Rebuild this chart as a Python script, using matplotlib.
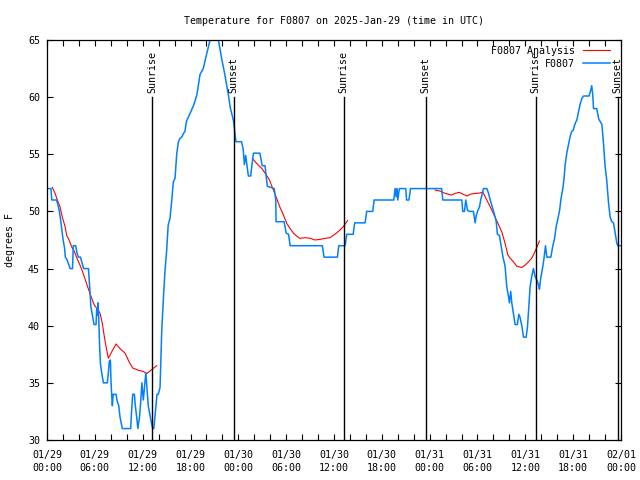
import numpy as np
import matplotlib
matplotlib.use("Agg")
import matplotlib.pyplot as plt
from matplotlib.ticker import MultipleLocator
from datetime import datetime, timedelta

# hours since 2025-01-29 00:00 UTC
obs_hours = [0.17, 0.5, 0.6, 1.2, 1.4, 1.55, 1.7, 1.84, 2.0, 2.2, 2.3, 2.5, 2.9, 3.2, 3.3, 3.6,
             3.75, 3.93, 4.2, 4.35, 4.6, 5.2, 5.3, 5.4, 5.5, 5.7, 5.9, 6.15, 6.24, 6.32, 6.4,
             6.5, 6.6, 6.7, 6.86, 7.07, 7.57, 7.7, 7.82, 7.95, 8.02, 8.11, 8.2, 8.3, 8.66,
             8.8, 9.0, 9.16, 9.45, 10.5, 10.6, 10.75, 10.96, 11.08, 11.25, 11.4, 11.6, 11.75,
             11.9, 12.08, 12.4, 12.7, 13.1, 13.26, 13.4, 13.8, 13.96, 14.18, 14.39, 14.6,
             14.8, 15.0, 15.2, 15.43, 15.64, 15.85, 16.06, 16.27, 16.48, 16.69, 16.9, 17.1,
             17.3, 17.5, 17.9, 18.4, 18.8, 19.2, 19.6, 20.0, 20.45, 20.9, 21.1, 21.5, 21.9,
             22.3, 22.75, 23.0, 23.4, 23.7, 24.4, 24.6, 24.76, 24.92, 25.05, 25.26, 25.55,
             25.68, 25.9, 26.7, 27.0, 27.35, 27.5, 27.64, 28.5, 28.7, 28.73, 29.74, 30.0,
             30.3, 30.5, 34.54, 34.75, 36.43, 36.6, 37.39, 37.6, 38.4, 38.6, 39.9, 40.1,
             40.86, 41.03, 43.5, 43.66, 43.79, 43.87, 44.0, 44.2, 45.0, 45.1, 45.4, 45.6,
             49.5, 49.65, 52.03, 52.15, 52.36, 52.53, 52.74, 52.99, 53.49, 53.7, 53.83, 54.0,
             54.25, 54.4, 54.75, 55.17, 55.38, 55.6, 55.9, 56.1, 56.33, 56.5, 56.75, 56.96,
             57.17, 57.46, 57.67, 57.88, 58.0, 58.17, 58.3, 58.5, 58.72, 59.0, 59.18, 59.35,
             59.56, 59.77, 60.1, 60.27, 60.48, 60.6, 60.8, 61.02, 61.23, 61.44, 61.65, 61.77,
             61.94, 62.2, 62.36, 62.53, 62.7, 63.2, 63.45, 63.66, 63.87, 64.04, 64.3, 64.45,
             64.7, 64.87, 65.0, 65.2, 65.4, 65.6, 65.8, 66.0, 66.25, 66.46, 66.67, 66.88,
             67.1, 67.3, 68.0, 68.2, 68.33, 68.46, 68.55, 68.96, 69.2, 69.6, 69.8, 70.0,
             70.2, 70.43, 70.64, 70.85, 71.06, 71.27, 71.48, 71.6, 71.9]
obs_temps = [52, 52, 51, 51, 50.5, 50, 49.3, 48.5, 47.6, 46.8, 46, 45.8, 45, 45, 47, 47,
             46.4, 46, 46, 45.6, 45, 45, 44, 42.9, 41.7, 40.9, 40.1, 40.1, 41.5, 40.9, 42,
             40.5, 38.2, 36.7, 35.9, 35, 35, 35.9, 36.9, 37, 35.3, 34, 33, 34, 34,
             33.4, 33, 32, 31, 31, 32.4, 34, 34, 33, 32, 31, 32, 33.3,
             35, 33.5, 35.9, 33, 31.5, 31, 31, 34, 34, 34.6, 39.5, 42.4,
             44.8, 46.5, 48.8, 49.4, 50.9, 52.6, 52.9, 55, 56.1, 56.4, 56.5, 56.8,
             57, 57.9, 58.5, 59.3, 60.2, 62, 62.5, 63.7, 65, 66, 66, 65, 63.4,
             62, 60.2, 59.05, 57.9, 56.1, 56.1, 55.5, 54.1, 54.9, 54.2, 53.1, 53.1,
             53.9, 55.1, 55.1, 54, 54, 53, 52.2, 52, 51, 49.1, 49.1, 48.1,
             48, 47, 47, 46, 46, 47, 47, 48, 48, 49, 49, 50,
             50, 51, 51, 52, 51.3, 52, 51, 52, 52, 51, 51, 52,
             52, 51, 51, 50, 50, 51, 50.1, 50, 50, 49, 49.6, 50,
             50.4, 51, 52, 52, 51.6, 51, 50.3, 49.8, 49.2, 48, 47.9, 47,
             46.1, 45.2, 43.4, 42.6, 42, 43, 42, 41.1, 40.1, 40.1, 41, 40.7,
             40, 39, 39, 39.9, 42.2, 43.4, 44.3, 45, 44.3, 44, 43.6, 43.2,
             44.2, 45.2, 46, 47, 46, 46, 47, 47.6, 48.7, 49.2, 50.1, 51,
             52, 53, 54.1, 55.1, 55.8, 56.5, 57, 57.1, 57.7, 58, 58.7, 59.4,
             59.9, 60.1, 60.1, 60.6, 61, 60.2, 59, 59, 58.1, 57.6, 56, 54,
             52.8, 50.8, 49.5, 49.1, 49, 48.1, 47.2, 47, 47]

# analysis curve, NaN between the three runs
ana_hours = [0.67, 1.0, 1.3, 1.63, 1.92, 2.26, 2.47, 2.76, 3.1, 3.43, 3.76, 4.14, 4.48, 4.77,
             5.1, 5.4, 5.69, 5.94, 6.36, 6.65, 6.94, 7.2, 7.4, 7.7, 8.1, 8.66, 9.16, 9.79,
             10.29, 10.75, 11.46, 12.08, 12.5, 13.2, 13.76, np.nan,
             25.76, 26.3, 26.94, 27.5, 27.9, 28.32, 28.8, 29.2, 29.65, 30.07, 30.5, 30.9,
             31.3, 31.7, 32.4, 33.0, 33.6, 34.3, 34.9, 35.5, 35.9, 36.3, 36.8, 37.2, 37.5,
             37.7, np.nan,
             48.68, 49.3, 49.94, 50.77, 51.2, 51.73, 52.2, 52.7, 53.07, 53.7, 54.25, 54.67,
             54.95, 55.38, 55.8, 56.2, 56.6, 57.05, 57.34, 57.6, 57.8, 58.1, 58.5, 58.93,
             59.56, 59.97, 60.4, 60.8, 61.23, 61.52, 61.77]
ana_temps = [52.1, 51.6, 51.0, 50.4, 49.5, 48.7, 47.9, 47.5, 46.9, 46.5, 45.9, 45.3, 44.7, 44.1,
             43.4, 42.8, 42.25, 41.8, 41.4, 41.1, 40.2, 39.0, 38.2, 37.15, 37.7, 38.4, 38.0, 37.6,
             36.85, 36.3, 36.1, 36.0, 35.8, 36.2, 36.5, np.nan,
             54.64, 54.2, 53.77, 53.2, 52.75, 52.0, 51.15, 50.4, 49.7, 48.96, 48.5, 48.1,
             47.85, 47.65, 47.7, 47.65, 47.5, 47.56, 47.65, 47.7, 47.9, 48.1, 48.4, 48.7, 49.0,
             49.2, np.nan,
             51.87, 51.78, 51.58, 51.43, 51.58, 51.67, 51.5, 51.35, 51.5, 51.58, 51.6, 51.7,
             51.3, 50.7, 50.12, 49.5, 48.9, 48.2, 47.5, 46.8, 46.2, 45.9, 45.6, 45.2,
             45.1, 45.3, 45.6, 45.9, 46.5, 47.0, 47.4]

sunrise_hours = [13.2, 37.2, 61.3]
sunset_hours = [23.4, 47.5, 71.6]

START = datetime(2025, 1, 29)
FONT = "DejaVu Sans Mono"
FS = 7.2

plt.rcParams["font.family"] = FONT
plt.rcParams["font.size"] = FS

fig = plt.figure(figsize=(6.4, 4.8), dpi=100)
ax = fig.add_axes([47 / 640, 40 / 480, 574 / 640, 400 / 480])

ax.plot(ana_hours, ana_temps, color="#ff0000", lw=0.8, label="F0807 Analysis")
ax.plot(obs_hours, obs_temps, color="#0080ff", lw=1.1, label="F0807")

for h in sunrise_hours:
    ax.plot([h, h], [30, 60], color="black", lw=1.0)
    ax.text(h, 60.4, "Sunrise", rotation=90, ha="center", va="bottom")
for h in sunset_hours:
    ax.plot([h, h], [30, 60], color="black", lw=1.0)
    ax.text(h, 60.4, "Sunset", rotation=90, ha="center", va="bottom")

ax.set_xlim(0, 72)
ax.set_ylim(30, 65)

ticks = list(range(0, 73, 6))
ax.set_xticks(ticks)
ax.set_xticklabels([(START + timedelta(hours=t)).strftime("%m/%d\n%H:%M") for t in ticks])
ax.xaxis.set_minor_locator(MultipleLocator(2))
ax.set_yticks(range(30, 66, 5))

ax.tick_params(which="both", direction="in", top=True, right=True, length=4, width=0.8)
ax.tick_params(axis="y", pad=5)
ax.tick_params(axis="x", pad=7)
for lab in ax.get_xticklabels():
    lab.set_linespacing(1.35)
for s in ax.spines.values():
    s.set_linewidth(0.9)

ax.set_ylabel("degrees F")
ax.yaxis.set_label_coords(-0.055, 0.5)
ax.set_title("Temperature for F0807 on 2025-Jan-29 (time in UTC)", pad=11.5, fontsize=FS)

ax.legend(loc="upper right", bbox_to_anchor=(0.981, 0.985), frameon=False, markerfirst=False,
          borderpad=0, borderaxespad=0, handlelength=2.7, handletextpad=0.85, labelspacing=0.3)

fig.savefig("out.png", dpi=100)
